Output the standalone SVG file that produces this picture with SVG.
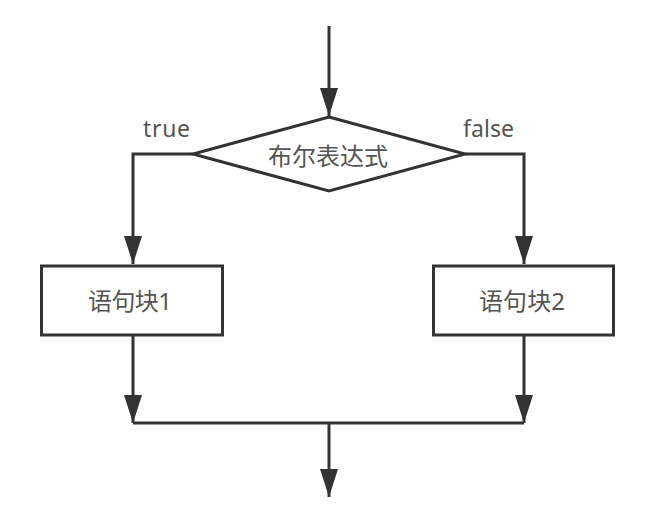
<svg xmlns="http://www.w3.org/2000/svg" width="648" height="528" viewBox="0 0 648 528">
  <style>
    .shape { fill: #ffffff; stroke: #333333; stroke-width: 3; }
    .conn { fill: none; stroke: #333333; stroke-width: 3; }
    .label { font-family: "Noto Sans", "Noto Sans CJK SC", sans-serif; fill: #555555; }
  </style>
  <defs>
    <marker id="arrow" markerUnits="userSpaceOnUse" markerWidth="28" markerHeight="18" refX="28" refY="9" orient="auto">
      <path d="M0,0 L28,9 L0,18 z" fill="#333333"/>
    </marker>
  </defs>
  <rect width="648" height="528" fill="#ffffff"/>
  <g id="connectors">
    <path class="conn" d="M329,26 V116" marker-end="url(#arrow)"/>
    <path class="conn" d="M193,154 H133 V264" marker-end="url(#arrow)"/>
    <path class="conn" d="M465,154 H524 V264" marker-end="url(#arrow)"/>
    <path class="conn" d="M133,335 V423" marker-end="url(#arrow)"/>
    <path class="conn" d="M524,335 V423" marker-end="url(#arrow)"/>
    <path class="conn" d="M133,423 H524"/>
    <path class="conn" d="M329,423 V497" marker-end="url(#arrow)"/>
  </g>
  <g id="label-true">
    <text class="label" x="143" y="137" font-size="23" textLength="47">true</text>
  </g>
  <g id="label-false">
    <text class="label" x="463" y="137" font-size="23" textLength="51">false</text>
  </g>
  <g id="decision">
    <polygon class="shape" points="329,117 465,154 329,191 193,154"/>
    <text class="label" x="328" y="165" font-size="24" text-anchor="middle" textLength="120">布尔表达式</text>
  </g>
  <g id="block1">
    <rect class="shape" x="41.5" y="266" width="181" height="69"/>
    <text class="label" x="130" y="310" font-size="24" text-anchor="middle" textLength="84">语句块1</text>
  </g>
  <g id="block2">
    <rect class="shape" x="433.5" y="266" width="180" height="69"/>
    <text class="label" x="522" y="310" font-size="24" text-anchor="middle" textLength="86">语句块2</text>
  </g>
</svg>
